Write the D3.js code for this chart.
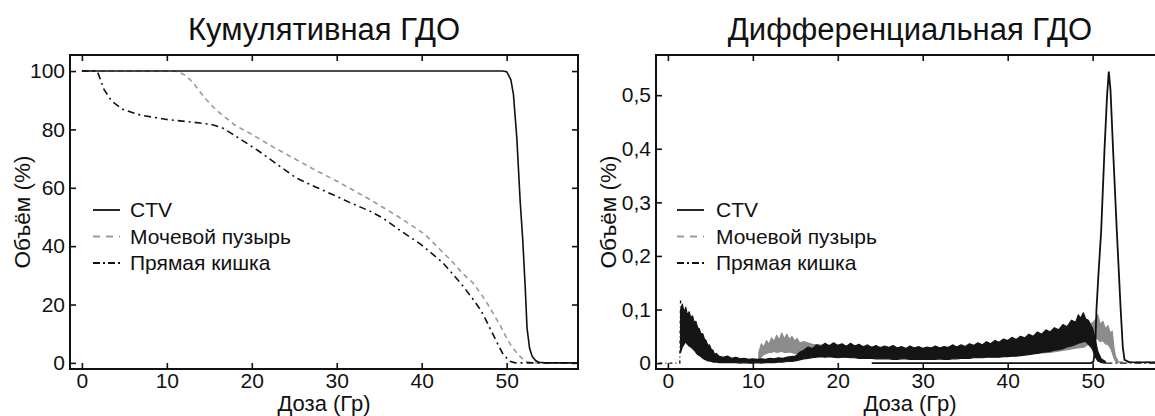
<!DOCTYPE html>
<html>
<head>
<meta charset="utf-8">
<script src="https://cdn.jsdelivr.net/npm/d3@7/dist/d3.min.js"></script>
<style>
body { margin: 0; background: #fff; }
svg { display: block; }
text { font-family: "Liberation Sans", Arial, sans-serif; fill: #111; }
</style>
</head>
<body>
<div id="viz"></div>
<script>
// ticks and names
var doseTicks = [0, 10, 20, 30, 40, 50];
var cumTicks = [0, 20, 40, 60, 80, 100];
var diffTicks = [0, 0.1, 0.2, 0.3, 0.4, 0.5];
var seriesNames = ["CTV", "Мочевой пузырь", "Прямая кишка"];

// cumulative DVH [dose, volume %]
var cumCTV = [[0,100],[49.5,100],[50,99.8],[50.5,97],[50.8,92],[51.2,77],[51.6,55],[51.9,42],[52.2,25],[52.4,12],[52.7,5],[53,2.3],[53.4,0.8],[53.8,0.2],[54.5,0],[58.4,0]];
var cumBladder = [[0,100],[10.8,100],[11.4,99.6],[12.2,98.5],[13,96.3],[14.3,91.4],[15.5,87.5],[16.5,85],[18,81.5],[20,78.3],[22.5,74],[25.2,69.7],[27.5,66],[30,62.3],[33.9,56],[37.3,50],[40.4,44],[42.1,39],[43.5,35],[44.7,31],[46,27.5],[46.9,24],[47.8,20],[48.6,16],[49.3,12.5],[49.9,9.1],[50.5,6],[51.2,3.4],[52.1,0.6],[53,0],[58.4,0]];
var cumRectum = [[0,100],[1.8,100],[2.2,97],[2.6,93.7],[3.5,89.7],[4.8,86.9],[6.9,84.9],[10,83.4],[13,82.5],[15.2,81.7],[16.5,80.6],[17.5,78.8],[18.7,76.6],[20.8,72.6],[23,68],[25.2,63.4],[27.5,60.3],[29.5,57.7],[31.5,55],[33.9,52],[35.5,49.5],[37.3,45.7],[39.9,40.6],[42.5,34.3],[44.7,26.9],[46,22],[46.9,18.3],[47.6,14.5],[48.2,10.9],[48.9,6.8],[49.5,3.4],[50.3,0.6],[51,0],[58.4,0]];

// differential DVH
var diffCTV = [[24,0],[49.8,0],[50.1,0.003],[50.3,0.03],[50.45,0.1],[50.7,0.17],[51,0.245],[51.4,0.4],[51.7,0.5],[51.9,0.544],[52.1,0.51],[52.4,0.4],[52.85,0.245],[53.3,0.1],[53.55,0.03],[53.75,0.006],[54.3,0.002],[58.4,0.001]];
var diffBladderBand = [[10.7,0.005,0.02],[11,0.012,0.036],[11.3,0.016,0.03],[11.6,0.018,0.042],[11.9,0.02,0.035],[12.2,0.02,0.047],[12.5,0.022,0.04],[12.8,0.02,0.052],[13.1,0.021,0.043],[13.4,0.022,0.056],[13.7,0.02,0.045],[14,0.02,0.054],[14.3,0.021,0.044],[14.6,0.02,0.05],[14.9,0.018,0.041],[15.2,0.018,0.046],[15.5,0.016,0.038],[16,0.014,0.04],[17,0.013,0.035],[18,0.013,0.034],[20,0.012,0.033],[22,0.011,0.032],[25,0.01,0.03],[28,0.01,0.028],[31,0.01,0.028],[34,0.011,0.03],[37,0.012,0.032],[40,0.014,0.038],[43,0.018,0.045],[45,0.02,0.05],[47,0.025,0.058],[48,0.028,0.062],[49,0.03,0.066],[49.5,0.035,0.072],[50,0.04,0.075],[50.3,0.045,0.08],[50.6,0.045,0.09],[50.9,0.04,0.072],[51.2,0.042,0.078],[51.5,0.036,0.064],[51.8,0.035,0.07],[52.1,0.028,0.055],[52.3,0.02,0.06],[52.5,0.01,0.03],[52.7,0.003,0.012],[53,0,0.004]];
var diffBladderTail = [[53,0.002],[58.4,0.002]];
var diffRectumBand = [[1.5,0.02,0.1],[1.7,0.03,0.11],[1.9,0.035,0.095],[2.1,0.04,0.104],[2.3,0.035,0.09],[2.5,0.032,0.096],[2.7,0.03,0.085],[2.9,0.027,0.088],[3.1,0.024,0.076],[3.3,0.02,0.078],[3.5,0.016,0.066],[3.7,0.014,0.064],[3.9,0.012,0.054],[4.1,0.009,0.055],[4.3,0.007,0.045],[4.5,0.006,0.042],[4.7,0.004,0.033],[4.9,0.004,0.034],[5.1,0.003,0.026],[5.3,0.002,0.024],[5.5,0.002,0.016],[5.7,0.002,0.018],[6.0,0.001,0.013],[6.5,0.001,0.011],[7,0.001,0.013],[7.5,0.001,0.009],[8,0.001,0.011],[8.5,0,0.008],[9,0.001,0.009],[9.5,0,0.007],[10,0,0.008],[10.5,0.001,0.007],[11,0,0.008],[11.5,0.001,0.007],[12,0.001,0.009],[12.5,0.001,0.008],[13,0.002,0.01],[13.5,0.002,0.009],[14,0.003,0.011],[14.5,0.003,0.012],[15,0.004,0.013],[15.5,0.006,0.02],[16,0.008,0.024],[16.5,0.009,0.03],[17,0.01,0.027],[17.5,0.011,0.034],[18,0.012,0.031],[18.5,0.011,0.037],[19,0.012,0.032],[19.5,0.011,0.038],[20,0.01,0.033],[20.5,0.011,0.036],[21,0.011,0.031],[21.5,0.01,0.037],[22,0.01,0.032],[22.5,0.009,0.035],[23,0.009,0.03],[23.5,0.009,0.034],[24,0.009,0.029],[24.5,0.008,0.033],[25,0.008,0.028],[25.5,0.008,0.032],[26,0.008,0.029],[26.5,0.007,0.033],[27,0.007,0.028],[27.5,0.008,0.031],[28,0.008,0.027],[28.5,0.007,0.032],[29,0.007,0.028],[29.5,0.007,0.031],[30,0.007,0.027],[30.5,0.007,0.03],[31,0.007,0.028],[31.5,0.007,0.032],[32,0.008,0.028],[32.5,0.007,0.031],[33,0.007,0.029],[33.5,0.008,0.034],[34,0.008,0.03],[34.5,0.009,0.034],[35,0.009,0.031],[35.5,0.009,0.036],[36,0.01,0.033],[36.5,0.01,0.038],[37,0.01,0.034],[37.5,0.011,0.04],[38,0.011,0.036],[38.5,0.011,0.042],[39,0.011,0.039],[39.5,0.012,0.045],[40,0.012,0.042],[40.5,0.013,0.048],[41,0.013,0.044],[41.5,0.014,0.05],[42,0.015,0.047],[42.5,0.016,0.054],[43,0.017,0.05],[43.5,0.018,0.058],[44,0.02,0.054],[44.5,0.021,0.062],[45,0.022,0.058],[45.5,0.024,0.066],[46,0.025,0.062],[46.5,0.027,0.072],[47,0.03,0.068],[47.5,0.032,0.08],[48,0.035,0.076],[48.3,0.037,0.09],[48.6,0.038,0.084],[48.9,0.04,0.094],[49.2,0.04,0.082],[49.5,0.035,0.08],[49.8,0.03,0.07],[50,0.025,0.065],[50.3,0.012,0.045],[50.6,0.004,0.022],[51,0.001,0.008],[51.5,0,0.003]];
var diffRectumLead = [[-1,0],[1.4,0],[1.5,0.122]];
var diffRectumTail = [[51.5,0],[58.4,0]];

var W = 1155, H = 416, TOP = 55, BOTTOM = 369, PW = 508;
var svg = d3.select("#viz").append("svg").attr("width", W).attr("height", H);

var styles = [
    {color: "#111", dash: null},
    {color: "#999", dash: "5,4"},
    {color: "#111", dash: "7,4,2,4"}
];

var panel = function(spec){
    var that = {};
    that.left = spec.left;
    that.x = d3.scaleLinear().domain([-1.4, 58.4]).range([spec.left, spec.left + PW]);
    that.y = d3.scaleLinear().domain(spec.ydom).range([BOTTOM, TOP]);
    that.g = svg.append("g");

    that.g.append("clipPath").attr("id", spec.id)
        .append("rect")
        .attr("x", spec.left).attr("y", TOP)
        .attr("width", PW).attr("height", BOTTOM - TOP);
    that.plot = that.g.append("g").attr("clip-path", "url(#" + spec.id + ")");

    that.line = d3.line().x(function(d){ return that.x(d[0]); }).y(function(d){ return that.y(d[1]); });
    that.area = d3.area()
        .x(function(d){ return that.x(d[0]); })
        .y0(function(d){ return that.y(d[1]); })
        .y1(function(d){ return that.y(d[2]); });

    that.drawLine = function(data, st, w){
        that.plot.append("path").datum(data)
            .attr("d", that.line)
            .style("fill", "none")
            .style("stroke", st.color)
            .style("stroke-width", w || 1.6)
            .style("stroke-dasharray", st.dash);
    };
    that.drawBand = function(data, color){
        that.plot.append("path").datum(data)
            .attr("d", that.area)
            .style("fill", color)
            .style("stroke", color)
            .style("stroke-width", 1.2)
            .style("stroke-linejoin", "round");
    };

    that.axes = function(){
        var b = that.g.append("g").attr("transform", "translate(0," + BOTTOM + ")")
            .call(d3.axisBottom(that.x).tickValues(doseTicks).tickSize(-6).tickPadding(4));
        var t = that.g.append("g").attr("transform", "translate(0," + TOP + ")")
            .call(d3.axisTop(that.x).tickValues(doseTicks).tickSize(-6).tickFormat(""));
        var l = that.g.append("g").attr("transform", "translate(" + spec.left + ",0)")
            .call(d3.axisLeft(that.y).tickValues(spec.yticks).tickSize(-6).tickPadding(5).tickFormat(spec.yfmt));
        var r = that.g.append("g").attr("transform", "translate(" + (spec.left + PW) + ",0)")
            .call(d3.axisRight(that.y).tickValues(spec.yticks).tickSize(-6).tickFormat(""));
        [b, t, l, r].forEach(function(a){
            a.select(".domain").remove();
            a.selectAll("line").style("stroke", "#111").style("stroke-width", 1.6);
            a.selectAll("text").style("font-size", "21px").style("fill", "#111")
                .style("font-family", "'Liberation Sans', Arial, sans-serif");
        });
        that.g.append("rect")
            .attr("x", spec.left).attr("y", TOP)
            .attr("width", PW).attr("height", BOTTOM - TOP)
            .style("fill", "none").style("stroke", "#111").style("stroke-width", 2);

        that.g.append("text")
            .attr("x", spec.left + PW / 2).attr("y", 40)
            .attr("text-anchor", "middle")
            .style("font-size", "31px")
            .text(spec.title);
        that.g.append("text")
            .attr("x", spec.left + PW / 2).attr("y", 411)
            .attr("text-anchor", "middle")
            .style("font-size", "22px")
            .text("Доза (Гр)");
        that.g.append("text")
            .attr("transform", "translate(" + (spec.left - 40) + "," + ((TOP + BOTTOM) / 2) + ") rotate(-90)")
            .attr("text-anchor", "middle")
            .style("font-size", "22.5px")
            .text("Объём (%)");
    };

    that.legend = function(){
        var lg = that.g.append("g");
        seriesNames.forEach(function(name, i){
            var base = 217 + i * 26.5;
            lg.append("line")
                .attr("x1", spec.left + spec.legx).attr("x2", spec.left + spec.legx + 27)
                .attr("y1", base - 7).attr("y2", base - 7)
                .style("stroke", styles[i].color)
                .style("stroke-width", 1.8)
                .style("stroke-dasharray", i === 1 ? "7,6" : (i === 2 ? "7,3,2,3" : null));
            lg.append("text")
                .attr("x", spec.left + 60).attr("y", base)
                .style("font-size", "21px")
                .text(name);
        });
    };
    return that;
};

// left: cumulative
var p1 = panel({id: "c1", left: 70, ydom: [-2.1, 105.5], yticks: cumTicks,
    yfmt: d3.format("d"), title: "Кумулятивная ГДО", legx: 23});
p1.drawLine(cumBladder, styles[1]);
p1.drawLine(cumRectum, styles[2]);
p1.drawLine(cumCTV, styles[0]);
p1.axes();
p1.legend();

// right: differential
var commaFmt = function(d){ return d === 0 ? "0" : d3.format(".1f")(d).replace(".", ","); };
var p2 = panel({id: "c2", left: 656, ydom: [-0.011, 0.575], yticks: diffTicks,
    yfmt: commaFmt, title: "Дифференциальная ГДО", legx: 21});
p2.drawLine(diffRectumLead, {color: "#111", dash: "3,3,1,3"}, 1.4);
p2.drawBand(diffBladderBand, "#8c8c8c");
p2.drawLine(diffBladderTail, {color: "#999", dash: "5,4"}, 1.4);
p2.drawBand(diffRectumBand, "#151515");
p2.drawLine(diffRectumTail, {color: "#111", dash: "7,3,1.5,3"}, 1.4);
p2.drawLine(diffCTV, styles[0], 1.8);
p2.axes();
p2.legend();
</script>
</body>
</html>
